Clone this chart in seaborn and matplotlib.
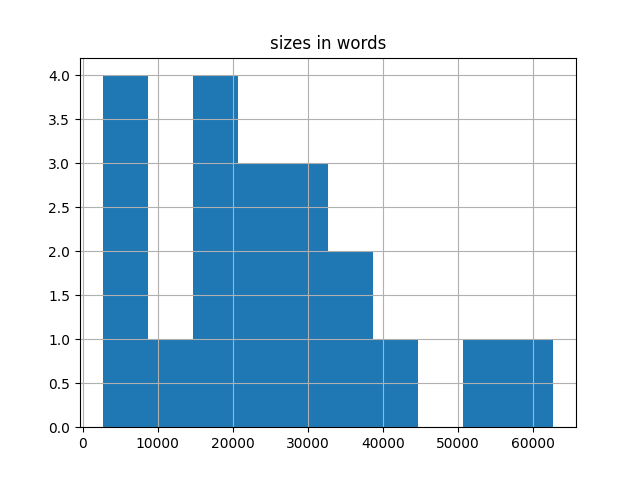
import matplotlib
matplotlib.use("Agg")
import matplotlib.pyplot as plt
import seaborn as sns
import pandas as pd

sizes_in_words = [2650, 4100, 5800, 7300,
                  11200,
                  15500, 17000, 18400, 19900,
                  21800, 23900, 25600,
                  27500, 29300, 31400,
                  34500, 36900,
                  41200,
                  53800,
                  62700]
title = "sizes in words"

df = pd.DataFrame({"sizes in words": sizes_in_words})

fig, ax = plt.subplots(figsize=(6.4, 4.8), dpi=100)
sns.histplot(data=df, x="sizes in words", bins=10, ax=ax,
             color="#1f77b4", alpha=1.0, edgecolor="none", linewidth=0)
ax.grid(True, color="#b0b0b0", linewidth=0.8)
ax.set_title(title)
ax.set_xlabel("")
ax.set_ylabel("")
ax.set_yticks([0, 0.5, 1.0, 1.5, 2.0, 2.5, 3.0, 3.5, 4.0])
ax.set_yticklabels(["0.0", "0.5", "1.0", "1.5", "2.0", "2.5", "3.0", "3.5", "4.0"])
fig.savefig("out.png", dpi=100)
